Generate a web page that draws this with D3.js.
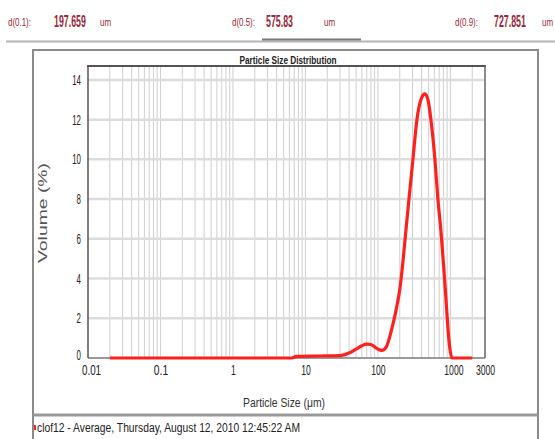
<!DOCTYPE html>
<html>
<head>
<meta charset="utf-8">
<script src="https://cdn.jsdelivr.net/npm/d3@7"></script>
<style>
body { margin: 0; background: #fff; }
text { font-family: "Liberation Sans Narrow", "Arial Narrow", "Liberation Sans", Arial, sans-serif; }
</style>
</head>
<body>
<div id="chart"></div>
<script>
// particle size (um) and volume (%)
var sizes   = [0.02, 6.5, 7.5, 15, 30, 40, 50, 60, 70, 80, 95, 113, 130, 145, 161, 180, 201, 222, 243, 268, 304, 345, 400, 445, 490, 538, 611, 672, 740, 800, 860, 920, 980, 1050, 1150, 2000];
var volumes = [0, 0, 0.08, 0.1, 0.12, 0.25, 0.45, 0.62, 0.7, 0.68, 0.5, 0.38, 0.55, 1.05, 1.7, 2.5, 3.5, 4.9, 6.4, 8, 10, 12, 13.1, 13.3, 13.0, 12, 10, 8, 6.4, 4.8, 3.2, 1.6, 0.5, 0, 0, 0];
var xTicks = [0.01, 0.1, 1, 10, 100, 1000, 3000];
var yTicks = [0, 2, 4, 6, 8, 10, 12, 14];
var dLabels = ["d(0.1):", "d(0.5):", "d(0.9):"];
var dValues = ["197.659", "575.83", "727.851"];
var legendText = "clof12 - Average, Thursday, August 12, 2010 12:45:22 AM";

var width = 555, height = 439;
var svg = d3.select("#chart").append("svg")
    .attr("width", width)
    .attr("height", height);

// condensed text: scale horizontally instead of relying on a narrow font
function narrow(g, px, py, sx, size, txt, anchor) {
    return g.append("text")
        .attr("transform", "translate(" + px + "," + py + ") scale(" + sx + ",1)")
        .attr("font-size", size)
        .attr("text-anchor", anchor || "start")
        .text(txt);
}

// header with percentiles
var hdr = svg.append("g").attr("fill", "#992637");
var labX = [8, 232, 455], valX = [54, 266, 494], umX = [100, 324, 542];
dLabels.forEach(function (t, i) {
    narrow(hdr, labX[i], 26, 0.72, 11, t);
    narrow(hdr, valX[i], 27, 0.52, 17, dValues[i]).attr("font-weight", "bold");
    narrow(hdr, umX[i], 26, 0.8, 10, "um");
});
svg.append("line").attr("x1", 6).attr("x2", 555).attr("y1", 41.5).attr("y2", 41.5)
    .attr("stroke", "#b4b4b4").attr("stroke-width", 2);
svg.append("line").attr("x1", 262).attr("x2", 361).attr("y1", 39.5).attr("y2", 39.5)
    .attr("stroke", "#777").attr("stroke-width", 2);

// outer frame
svg.append("rect").attr("x", 33).attr("y", 50).attr("width", 505).attr("height", 400)
    .attr("fill", "none").attr("stroke", "#8a8a8a").attr("stroke-width", 2);
svg.append("line").attr("x1", 33).attr("x2", 538).attr("y1", 415).attr("y2", 415)
    .attr("stroke", "#999").attr("stroke-width", 3);

var x = d3.scaleLog().domain([0.01, 3000]).range([88, 485]);
var y = d3.scaleLinear().domain([0, 14.7]).range([358, 66]);

// grid
var minor = [];
for (var e = -2; e <= 3; e++) {
    for (var m = 1; m <= 9; m++) {
        var v = m * Math.pow(10, e);
        if (v > 0.01 && v < 3000) minor.push(v);
    }
}
svg.append("g").selectAll("line").data(minor).join("line")
    .attr("x1", d => x(d)).attr("x2", d => x(d))
    .attr("y1", y.range()[1]).attr("y2", y(0))
    .attr("stroke", "#cfcfcf").attr("stroke-width", 1);
svg.append("g").selectAll("line").data(yTicks.slice(1)).join("line")
    .attr("x1", x.range()[0]).attr("x2", x.range()[1])
    .attr("y1", d => y(d)).attr("y2", d => y(d))
    .attr("stroke", "#dcdcdc").attr("stroke-width", 2.5);

// plot frame
svg.append("line").attr("x1", 88).attr("x2", 485).attr("y1", y(0)).attr("y2", y(0))
    .attr("stroke", "#9a9a9a").attr("stroke-width", 2);
svg.append("line").attr("x1", 87).attr("x2", 486).attr("y1", 66).attr("y2", 66)
    .attr("stroke", "#555").attr("stroke-width", 2);
svg.append("line").attr("x1", 88).attr("x2", 88).attr("y1", 66).attr("y2", y(0))
    .attr("stroke", "#555").attr("stroke-width", 1.5);
svg.append("line").attr("x1", 485).attr("x2", 485).attr("y1", 66).attr("y2", y(0))
    .attr("stroke", "#666").attr("stroke-width", 1.5);

// axes
var xAxis = svg.append("g").attr("transform", "translate(0," + y(0) + ")")
    .call(d3.axisBottom(x).tickValues(xTicks).tickFormat(d => String(d)).tickSize(0).tickPadding(6));
xAxis.select(".domain").remove();
xAxis.selectAll("text").attr("font-size", 14).attr("fill", "#222").attr("dy", "0.8em")
    .attr("textLength", d => String(d).length * 4.8).attr("lengthAdjust", "spacingAndGlyphs");
xAxis.selectAll(".tick").filter(d => d === 0.01).select("text").attr("dx", 3);
xAxis.selectAll(".tick").filter(d => d === 1000).select("text").attr("dx", 3);

var yAxis = svg.append("g").attr("transform", "translate(81,0)")
    .call(d3.axisLeft(y).tickValues(yTicks).tickSize(0).tickPadding(0));
yAxis.select(".domain").remove();
yAxis.selectAll("text").attr("font-size", 14).attr("fill", "#222")
    .attr("textLength", d => String(d).length * 4.4).attr("lengthAdjust", "spacingAndGlyphs");
yAxis.selectAll(".tick").filter(d => d === 0).select("text").attr("dy", "0.1em");

// titles
svg.append("text").attr("x", 288).attr("y", 64).attr("text-anchor", "middle")
    .attr("font-size", 11).attr("font-weight", "bold").attr("fill", "#222")
    .attr("textLength", 97).attr("lengthAdjust", "spacingAndGlyphs").text("Particle Size Distribution");
svg.append("text").attr("x", 284).attr("y", 407).attr("text-anchor", "middle")
    .attr("font-size", 13).attr("fill", "#333")
    .attr("textLength", 82).attr("lengthAdjust", "spacingAndGlyphs").text("Particle Size (\u03bcm)");
svg.append("text").attr("transform", "translate(47,213) rotate(-90)").attr("text-anchor", "middle")
    .attr("font-size", 13).attr("fill", "#555")
    .attr("textLength", 100).attr("lengthAdjust", "spacingAndGlyphs").text("Volume (%)");

// legend row
svg.append("rect").attr("x", 34).attr("y", 425).attr("width", 2).attr("height", 5).attr("fill", "#ff2020");
svg.append("text").attr("x", 37).attr("y", 432).attr("font-size", 12).attr("fill", "#222")
    .attr("textLength", 263).attr("lengthAdjust", "spacingAndGlyphs").text(legendText);

// distribution curve
var line = d3.line()
    .x((d, i) => x(sizes[i]))
    .y(d => y(d))
    .curve(d3.curveMonotoneX);
svg.append("path").datum(volumes)
    .attr("d", line)
    .attr("fill", "none")
    .attr("stroke", "#ff1f1f")
    .attr("stroke-width", 3.2)
    .attr("stroke-linejoin", "round");
</script>
</body>
</html>
